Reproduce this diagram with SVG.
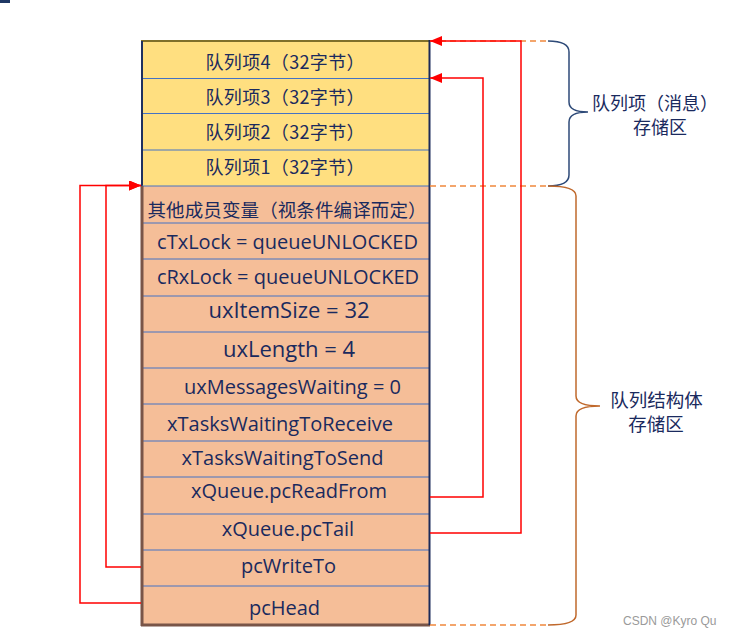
<svg xmlns="http://www.w3.org/2000/svg" width="730" height="637" viewBox="0 0 730 637">
<defs>
<style>
.t{font-family:"Open Sans","Noto Sans CJK SC",sans-serif;fill:#1a2a5e;text-anchor:middle;font-size:20px}
.cn{font-family:"Noto Sans CJK SC","Open Sans",sans-serif;fill:#1a2a5e;text-anchor:middle;font-size:18px}
.big{font-size:22px}
.y{fill:#ffdf80}
.o{fill:#f5be98}
.sep{stroke:#4472c4;stroke-width:1;fill:none}
.red{stroke:#ff0000;stroke-width:1.5;fill:none}
.dash{stroke:#f0883c;stroke-width:1.3;stroke-dasharray:6 4;fill:none}
.wm{font-family:"Liberation Sans",sans-serif;font-size:12px;fill:#9a9a9a}
</style>
<marker id="ah" viewBox="0 0 12 10" refX="12" refY="5" markerWidth="12" markerHeight="10" markerUnits="userSpaceOnUse" orient="auto">
<path d="M0,0 L12,5 L0,10 Z" fill="#ff0000"/>
</marker>
</defs>
<rect x="0" y="0" width="10" height="3" fill="#1f3864"/>
<g id="storage-items">
<rect class="y" x="142" y="41" width="287" height="145"/>
<line class="sep" x1="142" y1="78.5" x2="429" y2="78.5"/>
<line class="sep" x1="142" y1="113.5" x2="429" y2="113.5"/>
<line class="sep" x1="142" y1="150" x2="429" y2="150"/>
<line x1="141" y1="41" x2="430" y2="41" stroke="#7f6f2a" stroke-width="2"/>
<line x1="142" y1="41" x2="142" y2="186" stroke="#1f3060" stroke-width="2"/>
</g>
<g id="item4"><text class="cn" x="285" y="69" textLength="159">队列项4（32字节）</text></g>
<g id="item3"><text class="cn" x="285" y="104" textLength="159">队列项3（32字节）</text></g>
<g id="item2"><text class="cn" x="285" y="139" textLength="159">队列项2（32字节）</text></g>
<g id="item1"><text class="cn" x="285" y="174" textLength="159">队列项1（32字节）</text></g>
<g id="struct">
<rect class="o" x="142" y="186" width="287" height="439"/>
<line class="sep" x1="142" y1="186" x2="429" y2="186"/>
<line class="sep" x1="142" y1="223" x2="429" y2="223"/>
<line class="sep" x1="142" y1="259" x2="429" y2="259"/>
<line class="sep" x1="142" y1="296" x2="429" y2="296"/>
<line class="sep" x1="142" y1="332" x2="429" y2="332"/>
<line class="sep" x1="142" y1="368" x2="429" y2="368"/>
<line class="sep" x1="142" y1="404" x2="429" y2="404"/>
<line class="sep" x1="142" y1="441" x2="429" y2="441"/>
<line class="sep" x1="142" y1="477" x2="429" y2="477"/>
<line class="sep" x1="142" y1="514" x2="429" y2="514"/>
<line class="sep" x1="142" y1="550" x2="429" y2="550"/>
<line class="sep" x1="142" y1="586" x2="429" y2="586"/>
<line x1="142" y1="186" x2="142" y2="626" stroke="#795548" stroke-width="3"/>
<line x1="141" y1="625" x2="430" y2="625" stroke="#795548" stroke-width="3"/>
<line x1="429.5" y1="40" x2="429.5" y2="625" stroke="#1b2a5a" stroke-width="2"/>
</g>
<g id="others"><text class="cn" x="287" y="217" style="font-size:18.5px" textLength="279">其他成员变量（视条件编译而定）</text></g>
<g id="cTxLock"><text class="t" x="287.5" y="249">cTxLock = queueUNLOCKED</text></g>
<g id="cRxLock"><text class="t" x="288" y="284">cRxLock = queueUNLOCKED</text></g>
<g id="uxItemSize"><text class="t big" x="289" y="318">uxItemSize = 32</text></g>
<g id="uxLength"><text class="t big" x="289" y="357">uxLength = 4</text></g>
<g id="uxMessagesWaiting"><text class="t" x="292.5" y="394">uxMessagesWaiting = 0</text></g>
<g id="xTasksWaitingToReceive"><text class="t" x="280" y="431">xTasksWaitingToReceive</text></g>
<g id="xTasksWaitingToSend"><text class="t" x="282.5" y="465">xTasksWaitingToSend</text></g>
<g id="pcReadFrom"><text class="t" x="289" y="498">xQueue.pcReadFrom</text></g>
<g id="pcTail"><text class="t" x="288" y="536">xQueue.pcTail</text></g>
<g id="pcWriteTo"><text class="t" x="288.5" y="573">pcWriteTo</text></g>
<g id="pcHead"><text class="t" x="284.5" y="615">pcHead</text></g>
<g id="connectors">
<line class="dash" x1="430" y1="41" x2="548" y2="41"/>
<line class="dash" x1="430" y1="186" x2="548" y2="186"/>
<line class="dash" x1="430" y1="625" x2="548" y2="625" stroke="#e0905a"/>
<polyline class="red" points="430,533 521,533 521,41 430,41" marker-end="url(#ah)"/>
<polyline class="red" points="430,497 483,497 483,78 430,78" marker-end="url(#ah)"/>
<polyline class="red" points="141,567 106,567 106,185.5 141,185.5" marker-end="url(#ah)"/>
<polyline class="red" points="141,603 80,603 80,185.5 141,185.5" marker-end="url(#ah)"/>
</g>
<g id="brace-items">
<path d="M548,41 Q569,41 569,52 L569,102 Q569,112 588,112 Q569,112 569,122 L569,175 Q569,186 548,186" fill="none" stroke="#2e4a78" stroke-width="1.5"/>
<text class="cn" x="655" y="110">队列项（消息）</text>
<text class="cn" x="660" y="134">存储区</text>
</g>
<g id="brace-struct">
<path d="M548,186 Q576,186 576,196 L576,396 Q576,406 600,406 Q576,406 576,416 L576,615 Q576,625 548,625" fill="none" stroke="#c0692c" stroke-width="1.5"/>
<text class="cn" x="656.5" y="407" style="font-size:18.5px">队列结构体</text>
<text class="cn" x="656" y="431" style="font-size:18.5px">存储区</text>
</g>
<text class="wm" x="623" y="625">CSDN @Kyro Qu</text>
</svg>
